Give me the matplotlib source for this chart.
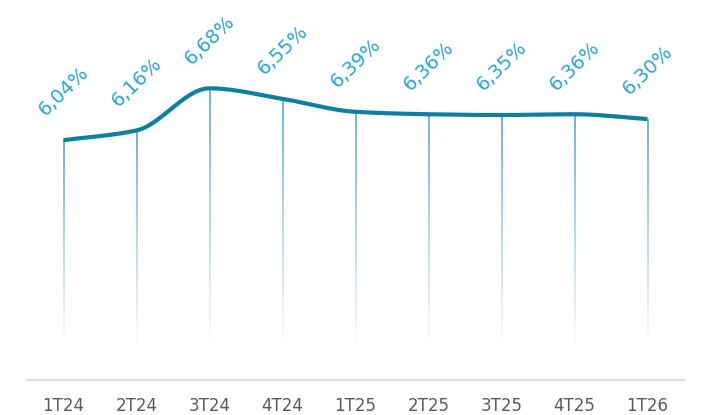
import numpy as np
import matplotlib.pyplot as plt
from matplotlib.collections import LineCollection

# データ
quarters = ['1T24', '2T24', '3T24', '4T24', '1T25', '2T25', '3T25', '4T25', '1T26']
rates = [6.04, 6.16, 6.68, 6.55, 6.39, 6.36, 6.35, 6.36, 6.30]
labels = ['6,04%', '6,16%', '6,68%', '6,55%', '6,39%', '6,36%', '6,35%', '6,36%', '6,30%']


# 単調3次補間（曲線の描画用）
def monotone_curve(x, y, n=40):
    x = np.asarray(x, float)
    y = np.asarray(y, float)
    h = np.diff(x)
    d = np.diff(y) / h
    m = np.zeros_like(y)
    m[0], m[-1] = d[0], d[-1]
    for i in range(1, len(y) - 1):
        if d[i - 1] * d[i] <= 0:
            m[i] = 0.0
        else:
            m[i] = 2.0 / (1.0 / d[i - 1] + 1.0 / d[i])
    xs, ys = [], []
    for i in range(len(x) - 1):
        t = np.linspace(0, 1, n)
        h00 = 2 * t**3 - 3 * t**2 + 1
        h10 = t**3 - 2 * t**2 + t
        h01 = -2 * t**3 + 3 * t**2
        h11 = t**3 - t**2
        xs.append(x[i] + t * h[i])
        ys.append(h00 * y[i] + h10 * h[i] * m[i] + h01 * y[i + 1] + h11 * h[i] * m[i + 1])
    return np.concatenate(xs), np.concatenate(ys)


fig = plt.figure(figsize=(7.17, 4.15), dpi=100)
ax = fig.add_axes([27 / 717, 35 / 415, 657 / 717, 380 / 415])
ymin, ymax = 3.08, 7.77
ax.set_xlim(-0.5, 8.5)
ax.set_ylim(ymin, ymax)

x = np.arange(len(quarters))
fade_end = 3.45

# 下に向かって薄くなる縦線
for xi, yi in zip(x, rates):
    ys = np.linspace(yi, fade_end, 60)
    segs = [[(xi, ys[k]), (xi, ys[k + 1])] for k in range(len(ys) - 1)]
    alphas = np.linspace(0.85, 0.0, len(segs))
    cols = [(0.16, 0.55, 0.72, a) for a in alphas]
    ax.add_collection(LineCollection(segs, colors=cols, linewidths=1.1, zorder=2))

cx, cy = monotone_curve(x, rates)
ax.plot(cx, cy, color='#0e7fa0', lw=3, solid_capstyle='butt', zorder=3)

# 値ラベル
for xi, yi, lab in zip(x, rates, labels):
    ax.annotate(lab, (xi, yi), xytext=(0, 35), textcoords='offset points',
                ha='center', va='center', rotation=44, fontsize=14,
                color='#2aa6d0', zorder=4)

ax.axhline(ymin, color='#dddddd', lw=1.5, clip_on=False)

ax.set_xticks(x)
ax.set_xticklabels(quarters, fontsize=12, color='#5a5a5a')
ax.tick_params(axis='x', length=0, pad=12)
ax.set_yticks([])
for s in ax.spines.values():
    s.set_visible(False)

fig.savefig('out.png', dpi=100)
